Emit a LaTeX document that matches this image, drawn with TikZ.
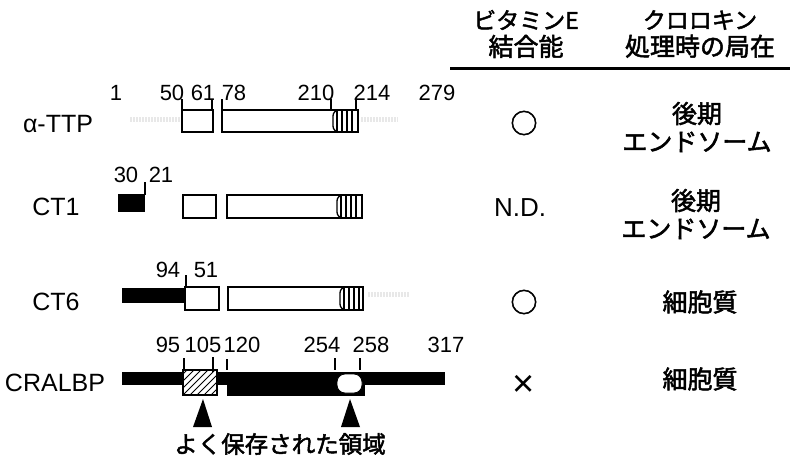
\documentclass[tikz,border=0pt]{standalone}
\usepackage{fontspec}
\setmainfont{Liberation Sans}
\newfontfamily\jpfont{Noto Sans CJK JP}[FakeBold=2]
\newcommand\capend[4]{%
  \draw[line width=1.2pt] (#1+4,#3) -- (#1+4,#4) (#1+9,#3) -- (#1+9,#4)
        (#1+14,#3) -- (#1+14,#4) (#1+19,#3) -- (#1+19,#4);
  \draw[line width=1.3pt, rounded corners=6pt] (#2,#3) -- (#1,#3) -- (#1,#4) -- (#2,#4);
}
\newcommand\kj{\fontsize{25}{27}\selectfont}
\begin{document}
\begin{tikzpicture}[x=1pt,y=-1pt,
  num/.style={font=\fontsize{22}{22}\selectfont, inner sep=0pt},
  lab/.style={font=\fontsize{25}{25}\selectfont, inner sep=0pt},
  jp/.style={font=\jpfont\fontsize{23}{27}\selectfont, align=center, inner sep=0pt},
  jpb/.style={font=\jpfont\fontsize{25}{28}\selectfont, align=center, inner sep=0pt},
  sym/.style={font=\jpfont\fontsize{27}{27}\selectfont, inner sep=0pt},
  dom/.style={draw, line width=1.3pt, fill=white},
  blk/.style={fill=black},
  tickln/.style={line width=1.8pt},
  faint/.style={black!9, line width=5pt, dash pattern=on 1.5pt off 1.5pt},
]
\useasboundingbox (0,0) rectangle (790,458);

% ---------- header ----------
\node[jp] (h1) at (526,34) {ビタミンE\\{\kj 結合能}};
\node[jp] (h2) at (700,34) {クロロキン\\{\kj 処理時の局在}};
\coordinate (hl) at (450,68);
\coordinate (hr) at (790,68);
\draw[line width=3pt] (hl) -- (hr);

% ---------- alpha-TTP ----------
\node[lab] (lA) at (58,124) {α-TTP};
\draw[faint] (130,119) -- (180,119);
\draw[faint] (361,119) -- (398,119);
\draw[dom] (182,110) rectangle (213,132);
\draw[dom] (222,110) rectangle (358,132);
\capend{333}{358}{110}{132}
\foreach \x in {182,212,222,331,356} \draw[tickln] (\x,99) -- (\x,110);
\node[num] (a1) at (116,93) {1};
\node[num] (a50) at (172,93) {50};
\node[num] (a61) at (203,93) {61};
\node[num] (a78) at (234,93) {78};
\node[num] (a210) at (316,93) {210};
\node[num] (a214) at (372,93) {214};
\node[num] (a279) at (437,93) {279};
\node[sym] (bA) at (524,123) {○};
\node[jpb] (cA) at (697,127) {後期\\エンドソーム};

% ---------- CT1 ----------
\node[lab] (lB) at (56,207) {CT1};
\fill[blk] (118,194) rectangle (145,212);
\draw[tickln] (145,182) -- (145,195);
\node[num] (b30) at (126,175) {30};
\node[num] (b21) at (161,175) {21};
\draw[dom] (183,195) rectangle (216,218);
\draw[dom] (227,195) rectangle (362,218);
\capend{337}{362}{195}{218}
\node[lab, font=\fontsize{26}{26}\selectfont] (bB) at (520,208) {N.D.};
\node[jpb] (cB) at (696,214) {後期\\エンドソーム};

% ---------- CT6 ----------
\node[lab] (lC) at (56,302) {CT6};
\draw[faint] (368,294) -- (410,294);
\fill[blk] (122,288) rectangle (185,303);
\draw[dom] (185,287) rectangle (219,310);
\draw[dom] (228,287) rectangle (363,310);
\capend{340}{363}{287}{310}
\draw[tickln] (186,275) -- (186,288);
\node[num] (c94) at (168,270) {94};
\node[num] (c51) at (206,270) {51};
\node[sym] (bC) at (524,302) {○};
\node[jpb] (cC) at (700,302) {細胞質};

% ---------- CRALBP ----------
\node[lab] (lD) at (55,383) {CRALBP};
\fill[blk] (122,372) rectangle (445,385);
\fill[blk] (227,372) rectangle (365,396);
\begin{scope}
  \clip (183,370) rectangle (217,395);
  \fill[white] (183,370) rectangle (217,395);
  \foreach \i in {-35,-28,...,42} \draw[line width=1pt] (183+\i,395) -- (183+\i+25,370);
\end{scope}
\draw[line width=1.3pt] (183,370) rectangle (217,395);
\draw[fill=white, line width=0.8pt, rounded corners=8pt] (337,374) rectangle (362,393);
\foreach \x/\a/\b in {184/358/370, 213/357/372, 227/359/370, 335/358/370, 360/358/370}
  \draw[tickln] (\x,\a) -- (\x,\b);
\node[num] (d95) at (168,345) {95};
\node[num] (d105) at (203,345) {105};
\node[num] (d120) at (242,345) {120};
\node[num] (d254) at (322,345) {254};
\node[num] (d258) at (371,345) {258};
\node[num] (d317) at (446,345) {317};
\node[font=\fontsize{38}{38}\selectfont, inner sep=0pt] (bD) at (524,386) {×};
\node[jpb] (cD) at (700,379) {細胞質};

% triangles and caption
\coordinate (t1) at (203,399);
\coordinate (t2) at (350,399);
\fill[black] (t1) -- (193,427) -- (212,427) -- cycle;
\fill[black] (t2) -- (341,427) -- (360,427) -- cycle;
\node[jp, font=\jpfont\fontsize{23.5}{23.5}\selectfont] (cap) at (280,444) {よく保存された領域};
\end{tikzpicture}
\end{document}
